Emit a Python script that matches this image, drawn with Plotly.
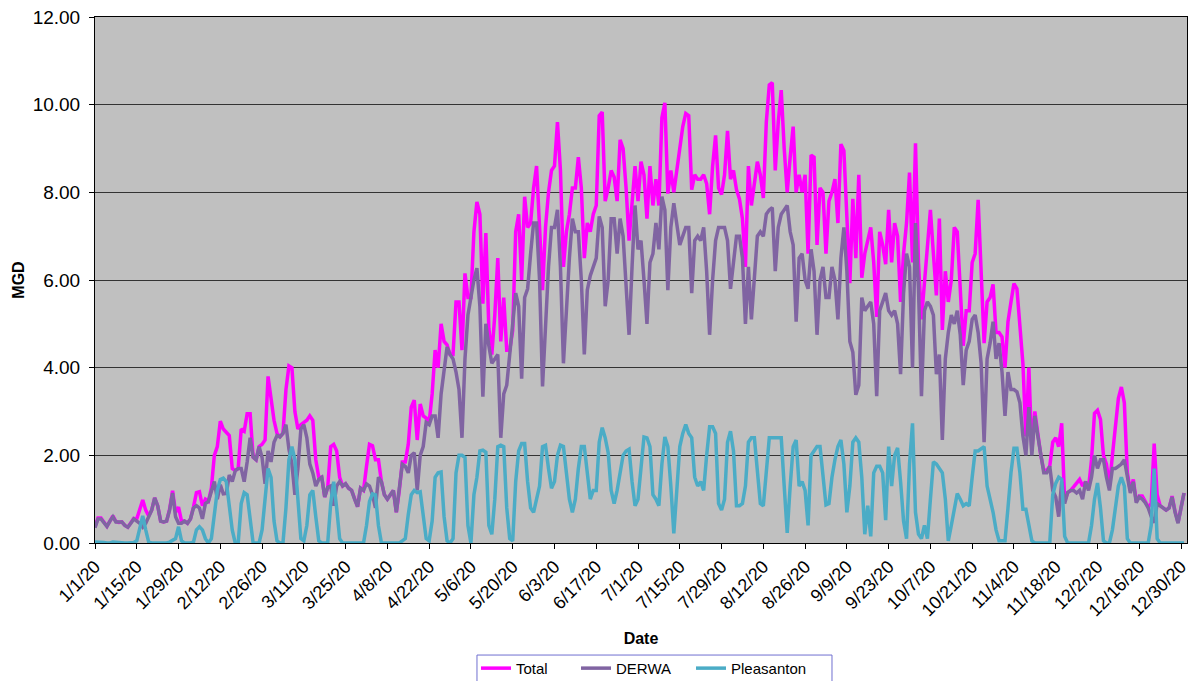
import pandas as pd
import plotly.graph_objects as go

dates = pd.date_range("2020-01-01", periods=366, freq="D")

derwa = [
    .35,.55,.55,.45,.38,.5,.6,.48,.47,.48,
    .4,.36,.45,.55,.5,.45,.36,.45,.6,.75,
    1.03,.85,.5,.48,.5,.75,1.14,.6,.45,.45,
    .5,.45,.55,.8,.85,.8,.55,.9,.95,1.15,
    1.4,1.0,1.33,1.12,1.13,1.55,1.4,1.65,1.7,1.7,
    1.4,1.85,2.4,1.96,1.9,2.2,1.95,1.35,2.1,1.85,
    2.3,2.45,2.42,2.5,2.7,2.14,1.8,1.1,1.7,2.6,
    2.7,2.4,1.8,1.6,1.3,1.45,1.5,1.05,1.27,1.3,
    .85,1.3,1.4,1.3,1.35,1.25,1.2,1.0,.83,1.25,
    1.2,1.35,1.3,1.1,.8,1.5,1.4,1.1,1.0,1.1,
    1.2,.7,1.2,1.8,1.75,1.6,2.0,2.06,1.2,2.0,
    2.2,2.75,2.7,2.9,2.9,2.4,3.4,4.0,4.47,4.3,
    4.2,3.9,3.5,2.4,4.2,5.2,5.6,6.0,6.27,5.4,
    3.34,5.0,4.5,4.1,4.2,4.3,2.4,3.4,3.6,4.3,
    4.8,5.7,5.4,3.75,5.6,5.8,6.6,7.3,7.3,6.0,
    3.57,5.0,6.3,7.2,7.2,7.6,6.3,4.1,5.5,6.5,
    7.4,7.1,7.1,6.0,4.3,5.77,6.1,6.3,6.5,7.45,
    7.2,5.4,6.0,7.4,7.4,6.6,7.4,7.0,6.0,4.75,
    6.3,7.7,6.7,6.9,6.0,5.0,6.4,6.6,7.3,6.7,
    7.9,7.6,5.77,7.2,7.75,7.3,6.8,7.0,7.2,7.2,
    5.7,6.9,7.0,6.9,7.2,6.2,4.75,6.0,6.9,7.2,
    7.2,7.2,6.9,5.8,6.4,7.0,7.0,6.5,5.0,6.3,
    5.1,6.0,7.0,7.1,7.0,7.5,7.6,7.65,6.2,7.2,
    7.5,7.6,7.7,7.1,6.8,5.05,6.5,6.6,6.0,5.8,
    6.7,6.2,4.75,6.0,6.3,5.6,5.6,6.3,6.0,5.1,
    6.5,7.2,6.2,4.6,4.35,3.38,3.6,5.6,5.3,5.4,
    5.5,5.0,3.35,5.3,5.5,5.7,5.3,5.2,5.3,5.0,
    3.85,5.7,6.6,6.3,4.0,7.3,5.8,3.35,5.3,5.5,
    5.4,5.2,3.85,4.3,2.35,4.2,4.8,5.2,5.0,5.3,
    4.75,3.6,4.4,4.6,5.1,5.2,4.8,4.1,2.3,4.2,
    4.56,5.05,4.2,4.56,3.9,2.9,3.9,3.5,3.5,3.45,
    3.2,2.44,2.0,3.1,2.0,2.9,2.44,1.96,1.6,1.6,
    1.75,1.2,1.05,.6,1.4,.9,1.15,1.2,1.2,1.14,
    1.2,1.0,1.4,1.2,1.5,2.0,1.7,1.9,1.9,1.5,
    1.2,1.7,1.7,1.75,1.8,1.9,1.5,1.14,1.4,.92,
    1.05,1.0,.92,.8,.6,.46,.9,.85,.8,.75,
    .8,1.05,.7,.45,.8,1.14,
]

pleasanton = [
    .02,.02,.02,.01,0,0,.02,.01,0,0,
    0,0,0,.01,.05,.3,.62,.3,.02,0,
    0,0,0,0,0,.02,.05,.1,.37,.05,
    0,0,0,.02,.3,.37,.3,.1,0,.1,
    .6,1.2,1.45,1.48,1.4,.9,.3,0,0,.9,
    1.15,1.1,.55,0,0,0,.3,1.0,1.7,1.5,
    .5,.05,0,0,.8,1.9,2.2,1.9,.9,.1,
    .05,.4,1.1,1.2,.6,.05,0,0,0,.9,
    1.4,.8,.1,0,0,0,0,0,0,0,
    0,.4,.95,1.12,1.1,.4,0,0,0,0,
    0,0,0,.05,.1,.65,1.1,1.2,1.15,1.17,
    .7,.1,.05,.5,1.5,1.6,1.62,.6,.05,0,
    .1,1.6,2.0,2.0,1.95,.4,0,1.1,1.5,2.1,
    2.12,2.07,.4,.2,1.0,2.2,2.23,2.2,.8,.1,
    .05,1.4,2.1,2.27,2.27,1.4,.8,.7,1.0,1.3,
    2.2,2.23,1.7,1.25,1.4,2.0,2.23,2.2,1.6,1.0,
    .7,1.0,1.7,2.2,2.2,1.5,1.0,1.2,1.2,2.3,
    2.63,2.4,2.06,1.2,.9,1.2,1.6,2.0,2.1,2.14,
    1.4,.85,1.0,1.8,2.42,2.4,2.2,1.1,1.0,.85,
    1.8,2.42,2.2,1.3,.22,1.2,2.2,2.5,2.7,2.5,
    2.4,1.5,1.3,1.4,1.2,2.0,2.65,2.65,2.5,.9,
    .75,1.0,2.3,2.55,2.1,.85,.85,.9,1.3,2.3,
    2.4,2.4,1.7,.9,.85,1.6,2.4,2.4,2.4,2.4,
    2.4,1.3,.23,1.3,2.2,2.35,1.3,1.4,1.2,.4,
    2.0,2.1,2.2,2.2,1.5,.87,.9,1.5,1.9,2.2,
    2.35,1.8,.7,1.3,2.3,2.4,2.3,1.5,.2,.85,
    .15,1.6,1.75,1.75,1.6,.52,2.2,1.3,2.0,2.17,
    1.4,.5,.1,1.8,2.73,.7,.2,.1,.4,.1,
    1.0,1.85,1.8,1.7,1.6,1.0,.05,.4,.75,1.13,
    1.0,.85,.9,.85,1.5,2.1,2.1,2.15,2.2,1.3,
    1.0,.7,.3,.05,.05,.05,.8,1.6,2.16,2.16,
    1.6,.77,.77,.4,.05,0,0,0,0,0,
    0,1.1,1.36,1.5,1.45,.15,0,0,0,0,
    0,0,0,0,.4,1.0,1.37,.8,.05,0,
    0,.3,.8,1.3,1.5,1.3,.1,0,0,0,
    0,0,0,0,.4,1.7,.1,0,0,0,
    0,0,0,0,0,0,
]

total = [
    .37,.57,.57,.46,.38,.5,.62,.49,.47,.48,
    .4,.36,.45,.56,.55,.75,.98,.75,.62,.75,
    1.03,.85,.5,.48,.5,.77,1.19,.7,.82,.5,
    .5,.45,.55,.82,1.15,1.17,.85,1.0,.95,1.25,
    2.0,2.2,2.78,2.6,2.53,2.45,1.7,1.65,1.7,2.6,
    2.55,2.95,2.95,1.96,1.9,2.2,2.25,2.35,3.8,3.35,
    2.8,2.5,2.42,2.5,3.5,4.04,4.0,3.0,2.6,2.7,
    2.75,2.8,2.9,2.8,1.9,1.5,1.5,1.05,1.27,2.2,
    2.25,2.1,1.5,1.3,1.35,1.25,1.2,1.0,.83,1.25,
    1.2,1.75,2.25,2.22,1.9,1.9,1.4,1.1,1.0,1.1,
    1.2,.7,1.2,1.85,1.85,2.25,3.1,3.26,2.35,3.17,
    2.9,2.85,2.75,3.4,4.4,4.0,5.0,4.6,4.52,4.3,
    4.3,5.5,5.5,4.4,6.15,5.6,5.6,7.1,7.78,7.5,
    5.46,7.07,4.9,4.3,5.2,6.5,4.6,5.6,4.4,4.4,
    4.85,7.1,7.5,6.0,7.9,7.2,7.3,8.1,8.6,7.2,
    5.77,7.2,8.0,8.5,8.6,9.6,8.5,6.3,7.1,7.5,
    8.1,8.1,8.8,8.1,6.5,7.3,7.1,7.5,7.7,9.75,
    9.83,7.8,8.1,8.5,8.35,7.8,9.2,9.0,8.1,6.9,
    7.7,8.6,7.8,8.7,8.4,7.4,8.6,7.7,8.3,7.7,
    9.7,10.04,7.97,8.5,8.0,8.5,9.0,9.5,9.8,9.75,
    8.06,8.4,8.3,8.3,8.4,8.2,7.5,8.6,9.3,8.1,
    7.95,8.4,9.4,8.3,8.5,8.06,7.85,7.4,6.3,8.6,
    7.7,8.2,8.7,8.4,7.87,9.6,10.45,10.5,8.5,9.6,
    10.33,9.0,8.0,8.8,9.5,8.0,8.4,8.0,8.4,6.6,
    8.85,8.8,6.8,8.1,8.0,6.6,7.8,8.0,8.3,7.3,
    9.1,8.95,7.6,5.93,7.85,6.5,8.4,6.05,6.6,6.9,
    7.2,6.4,5.16,7.1,6.8,6.36,7.6,6.4,7.3,7.0,
    5.5,6.6,7.3,8.45,6.4,9.12,6.4,5.1,6.0,6.8,
    7.6,6.6,5.65,7.4,4.86,6.2,5.5,6.0,7.2,7.1,
    5.85,4.5,5.3,5.3,6.4,6.6,7.83,6.05,4.56,5.5,
    5.6,5.9,4.8,4.8,4.7,4.0,5.05,5.5,5.92,5.8,
    5.0,4.1,2.43,4.0,2.1,3.0,2.5,2.0,1.66,1.66,
    1.75,2.3,2.4,2.2,2.73,.95,1.15,1.2,1.28,1.36,
    1.45,1.3,1.4,1.25,1.9,2.96,3.03,2.82,2.0,1.8,
    1.3,2.0,2.6,3.3,3.56,3.2,1.6,1.2,1.45,.95,
    1.07,1.07,.95,.82,.9,2.27,1.1,.85,.8,.75,
    .8,1.07,.72,.47,.8,1.14,
]

tick_dates = pd.date_range("2020-01-01", "2020-12-30", freq="14D")
tick_labels = ["1/1/20", "1/15/20", "1/29/20", "2/12/20", "2/26/20", "3/11/20",
               "3/25/20", "4/8/20", "4/22/20", "5/6/20", "5/20/20", "6/3/20",
               "6/17/20", "7/1/20", "7/15/20", "7/29/20", "8/12/20", "8/26/20",
               "9/9/20", "9/23/20", "10/7/20", "10/21/20", "11/4/20", "11/18/20",
               "12/2/20", "12/16/20", "12/30/20"]

FONT = "Liberation Sans, Arial, sans-serif"

fig = go.Figure()
fig.add_trace(go.Scatter(x=dates, y=total, name="Total", mode="lines",
                         line=dict(color="#FF00FF", width=3.5), legend="legend"))
fig.add_trace(go.Scatter(x=dates, y=derwa, name="DERWA", mode="lines",
                         line=dict(color="#8064A2", width=3.5), legend="legend2"))
fig.add_trace(go.Scatter(x=dates, y=pleasanton, name="Pleasanton", mode="lines",
                         line=dict(color="#4BACC6", width=3.5), legend="legend3"))

leg_common = dict(orientation="h", xanchor="left", y=-0.207, yanchor="top",
                  borderwidth=0, bgcolor="rgba(0,0,0,0)",
                  font=dict(size=15), itemwidth=30)

fig.update_layout(
    width=1196, height=681,
    margin=dict(l=95, r=9, t=17, b=138, autoexpand=False),
    paper_bgcolor="white",
    plot_bgcolor="#C0C0C0",
    font=dict(family=FONT, size=16, color="black"),
    showlegend=True,
    legend=dict(x=0.3489, **leg_common),
    legend2=dict(x=0.4405, **leg_common),
    legend3=dict(x=0.5458, **leg_common),
    shapes=[dict(type="rect", xref="paper", yref="paper",
                 x0=0.3498, x1=0.6749, y0=-0.213, y1=-0.30,
                 line=dict(color="#7070D0", width=1), layer="below")],
)
fig.update_xaxes(
    range=["2020-01-01", "2021-01-01"], automargin=False, ticklabeloverflow="allow",
    tickmode="array", tickvals=tick_dates, ticktext=tick_labels,
    tickangle=-45, ticks="outside", ticklen=5, tickcolor="black",
    showgrid=False, showline=True, linecolor="black", linewidth=1, mirror=True,
    tickfont=dict(size=18),
    title=dict(text="<b>Date</b>", font=dict(size=16), standoff=13),
)
fig.update_yaxes(
    range=[0, 12], dtick=2, tickformat=".2f", automargin=False, ticklabeloverflow="allow",
    ticks="outside", ticklen=5, tickcolor="black", ticklabelstandoff=5,
    showgrid=True, gridcolor="#333333", gridwidth=1, zeroline=False,
    showline=True, linecolor="black", linewidth=1, mirror=True,
    tickfont=dict(size=19),
    title=dict(text="<b>MGD</b>", font=dict(size=16), standoff=4),
)

fig.write_html("out.html", config={"displayModeBar": False},
               post_script="document.body.style.margin='0px';document.body.style.overflow='hidden';")
